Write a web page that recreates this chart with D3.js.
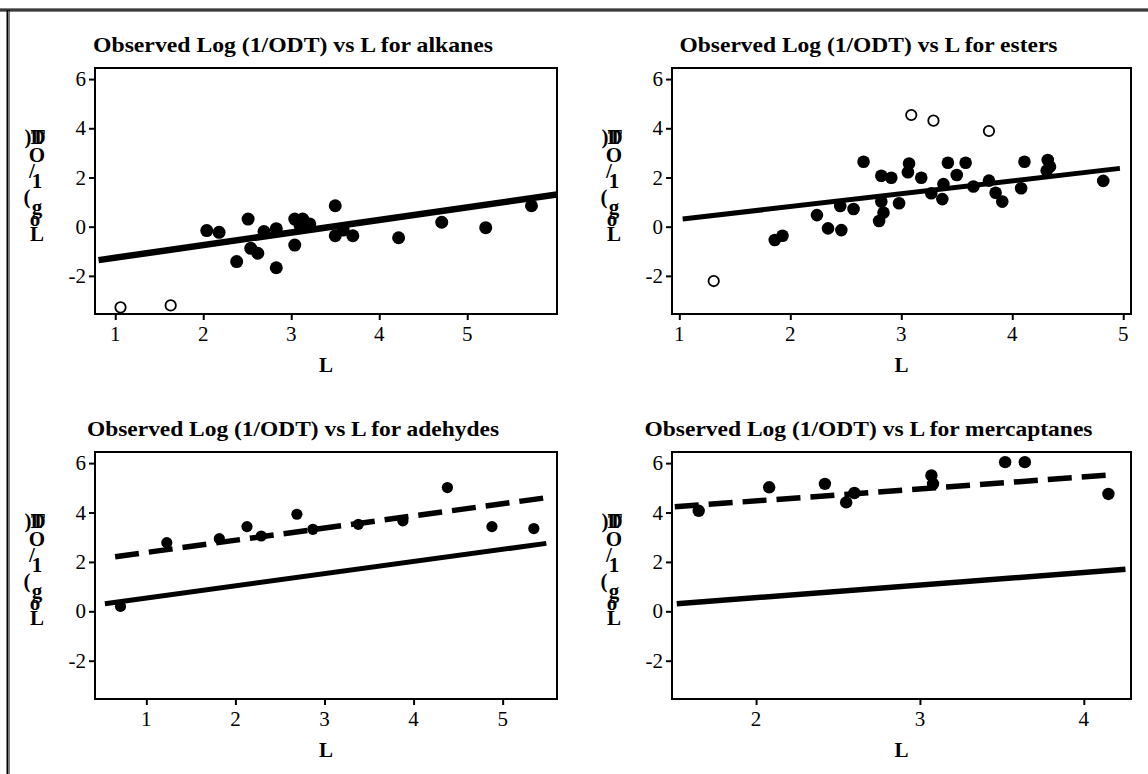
<!DOCTYPE html>
<html>
<head>
<meta charset="utf-8">
<script src="https://cdn.jsdelivr.net/npm/d3@7.9.0/dist/d3.min.js"></script>
<style>
  body { margin: 0; background: #fff; }
  svg { display: block; }
  text { font-family: "Liberation Serif", "Times New Roman", serif; fill: #000; }
</style>
</head>
<body>
<svg id="chart" width="1148" height="774"></svg>
<script>
// ---- data (L, observed log(1/ODT)) ----
const yTicks = [-2, 0, 2, 4, 6];

const alkanesPts = [
  [2.04, -0.16], [2.18, -0.23], [2.51, 0.31], [2.38, -1.42], [2.54, -0.88],
  [2.62, -1.08], [2.69, -0.2], [2.83, -0.08], [2.83, -1.67], [3.04, 0.31],
  [3.04, -0.75], [3.13, 0.31], [3.21, 0.11], [3.10, 0.05], [3.50, 0.85],
  [3.50, -0.37], [3.59, -0.14], [3.70, -0.37], [4.22, -0.45], [4.71, 0.18],
  [5.21, -0.04], [5.73, 0.85]
];
const alkanesOut = [[1.06, -3.28], [1.63, -3.20]];
const alkanesFit = [[0.81, -1.36], [6.02, 1.31]];

const estersPts = [
  [1.86, -0.54], [1.93, -0.37], [2.24, 0.47], [2.34, -0.07], [2.46, -0.14],
  [2.45, 0.84], [2.57, 0.72], [2.66, 2.64], [2.82, 2.07], [2.91, 1.99],
  [2.82, 1.02], [2.84, 0.57], [2.80, 0.23], [2.98, 0.95], [3.07, 2.57],
  [3.06, 2.21], [3.18, 1.99], [3.27, 1.36], [3.37, 1.12], [3.38, 1.73],
  [3.42, 2.60], [3.50, 2.10], [3.58, 2.60], [3.65, 1.63], [3.79, 1.87],
  [3.85, 1.38], [3.91, 1.02], [4.08, 1.56], [4.11, 2.64], [4.32, 2.71],
  [4.31, 2.28], [4.34, 2.44], [4.82, 1.86]
];
const estersOut = [[1.31, -2.21], [3.09, 4.54], [3.29, 4.31], [3.79, 3.89]];
const estersFit = [[1.03, 0.31], [4.97, 2.37]];

const aldehydesPts = [
  [0.71, 0.20], [1.23, 2.78], [1.82, 2.94], [2.13, 3.43], [2.29, 3.05],
  [2.69, 3.93], [2.87, 3.32], [3.38, 3.52], [3.88, 3.66], [4.38, 5.01],
  [4.88, 3.43], [5.35, 3.35]
];
const aldehydesFit = [[0.535, 0.31], [5.49, 2.75]];
const aldehydesDash = [[0.65, 2.21], [5.51, 4.61]];

const mercaptanesPts = [
  [1.65, 4.07], [2.08, 5.02], [2.42, 5.16], [2.55, 4.41], [2.60, 4.79],
  [3.07, 5.50], [3.08, 5.16], [3.52, 6.04], [3.64, 6.04], [4.15, 4.75]
];
const mercaptanesFit = [[1.516, 0.31], [4.254, 1.70]];
const mercaptanesDash = [[1.504, 4.23], [4.165, 5.52]];

const panels = [
  { title: "Observed Log (1/ODT) vs L for alkanes", titleW: 400,
    x0: 95, x1: 557, y0: 68, y1: 314, xDom: [0.77, 6.02], xTicks: [1, 2, 3, 4, 5],
    pts: alkanesPts, out: alkanesOut, fit: alkanesFit, fitW: 6.5, r: 6.5 },
  { title: "Observed Log (1/ODT) vs L for esters", titleW: 378,
    x0: 672, x1: 1131, y0: 68, y1: 314, xDom: [0.934, 5.07], xTicks: [1, 2, 3, 4, 5],
    pts: estersPts, out: estersOut, fit: estersFit, fitW: 5, r: 6.3 },
  { title: "Observed Log (1/ODT) vs L for adehydes", titleW: 412,
    x0: 95, x1: 557, y0: 452, y1: 699, xDom: [0.424, 5.61], xTicks: [1, 2, 3, 4, 5],
    pts: aldehydesPts, out: [], fit: aldehydesFit, dash: aldehydesDash, fitW: 5, r: 5.6 },
  { title: "Observed Log (1/ODT) vs L for mercaptanes", titleW: 448,
    x0: 672, x1: 1131, y0: 452, y1: 699, xDom: [1.487, 4.288], xTicks: [2, 3, 4],
    pts: mercaptanesPts, out: [], fit: mercaptanesFit, dash: mercaptanesDash, fitW: 5.5, r: 6.2 }
];

// y label drawn as upright stacked letters (offsets from frame-left / zero line)
const yLabel = [
  { c: "L", dx: -58, dy: 7 }, { c: "o", dx: -60, dy: -8 }, { c: "g", dx: -58, dy: -20 },
  { c: "(", dx: -68, dy: -30 }, { c: "1", dx: -58, dy: -46 }, { c: "/", dx: -63, dy: -56 },
  { c: "D", dx: -57, dy: -90 }, { c: "O", dx: -58, dy: -72 }, { c: "T", dx: -57, dy: -90 },
  { c: ")", dx: -67, dy: -90 }
];

const svg = d3.select("#chart");

// page border (top and left rules)
svg.append("line").attr("x1", 0).attr("x2", 1148).attr("y1", 10).attr("y2", 10)
  .attr("stroke", "#000").attr("stroke-width", 3);
svg.append("line").attr("x1", 0).attr("x2", 1148).attr("y1", 10).attr("y2", 10)
  .attr("stroke", "#777").attr("stroke-width", 1);
svg.append("line").attr("x1", 8).attr("x2", 8).attr("y1", 10).attr("y2", 774)
  .attr("stroke", "#000").attr("stroke-width", 3);
svg.append("line").attr("x1", 8.5).attr("x2", 8.5).attr("y1", 11).attr("y2", 774)
  .attr("stroke", "#777").attr("stroke-width", 1);

panels.forEach(p => {
  const g = svg.append("g");
  const x = d3.scaleLinear().domain(p.xDom).range([p.x0, p.x1]);
  const y = d3.scaleLinear().domain([-3.55, 6.45]).range([p.y1, p.y0]);
  const line = d3.line().x(d => x(d[0])).y(d => y(d[1]));

  // axes: tick marks from d3, labels drawn below as plain serif text
  const ya = g.append("g").attr("transform", `translate(${p.x0},0)`)
    .call(d3.axisLeft(y).tickValues(yTicks).tickFormat("").tickSize(6));
  const xa = g.append("g").attr("transform", `translate(0,${p.y1})`)
    .call(d3.axisBottom(x).tickValues(p.xTicks).tickFormat("").tickSize(6));
  [ya, xa].forEach(a => {
    a.select(".domain").remove();
    a.selectAll(".tick line").attr("stroke-width", 2);
  });

  g.append("g").selectAll("text").data(yTicks).join("text")
    .attr("x", p.x0 - 9).attr("y", d => y(d)).attr("dy", "0.34em")
    .attr("text-anchor", "end").attr("font-size", 21)
    .text(d => String(d));
  g.append("g").selectAll("text").data(p.xTicks).join("text")
    .attr("x", d => x(d)).attr("y", p.y1 + 27)
    .attr("text-anchor", "middle").attr("font-size", 21)
    .text(d => String(d));

  g.append("rect").attr("x", p.x0).attr("y", p.y0)
    .attr("width", p.x1 - p.x0).attr("height", p.y1 - p.y0)
    .attr("fill", "none").attr("stroke", "#000").attr("stroke-width", 2);

  // clip marks to frame
  const clipId = "clip" + p.x0 + "_" + p.y0;
  g.append("clipPath").attr("id", clipId).append("rect")
    .attr("x", p.x0).attr("y", p.y0).attr("width", p.x1 - p.x0).attr("height", p.y1 - p.y0);
  const plot = g.append("g").attr("clip-path", `url(#${clipId})`);

  plot.selectAll("circle.pt").data(p.pts).join("circle").attr("class", "pt")
    .attr("cx", d => x(d[0])).attr("cy", d => y(d[1])).attr("r", p.r).attr("fill", "#000");

  plot.selectAll("circle.out").data(p.out).join("circle").attr("class", "out")
    .attr("cx", d => x(d[0])).attr("cy", d => y(d[1])).attr("r", 5.2)
    .attr("fill", "#fff").attr("stroke", "#000").attr("stroke-width", 1.8);

  if (p.dash) {
    plot.append("path").datum(p.dash).attr("d", line).attr("fill", "none")
      .attr("stroke", "#000").attr("stroke-width", 5.5).attr("stroke-dasharray", "24,10");
  }
  plot.append("path").datum(p.fit).attr("d", line).attr("fill", "none")
    .attr("stroke", "#000").attr("stroke-width", p.fitW);

  // title
  g.append("text").attr("x", (p.x0 + p.x1) / 2 - 33).attr("y", p.y0 - 16)
    .attr("text-anchor", "middle").attr("font-size", 21).attr("font-weight", "bold")
    .attr("textLength", p.titleW).attr("lengthAdjust", "spacingAndGlyphs")
    .text(p.title);

  // x axis title
  g.append("text").attr("x", (p.x0 + p.x1) / 2).attr("y", p.y1 + 58)
    .attr("text-anchor", "middle").attr("font-size", 21).attr("font-weight", "bold")
    .text("L");

  // y axis title, stacked letters
  const zy = y(0);
  g.append("text").attr("font-size", 21).attr("font-weight", "bold")
    .attr("text-anchor", "middle").attr("dominant-baseline", "central")
    .selectAll("tspan").data(yLabel).join("tspan")
    .attr("x", d => p.x0 + d.dx).attr("y", d => zy + d.dy)
    .text(d => d.c);
});
</script>
</body>
</html>
